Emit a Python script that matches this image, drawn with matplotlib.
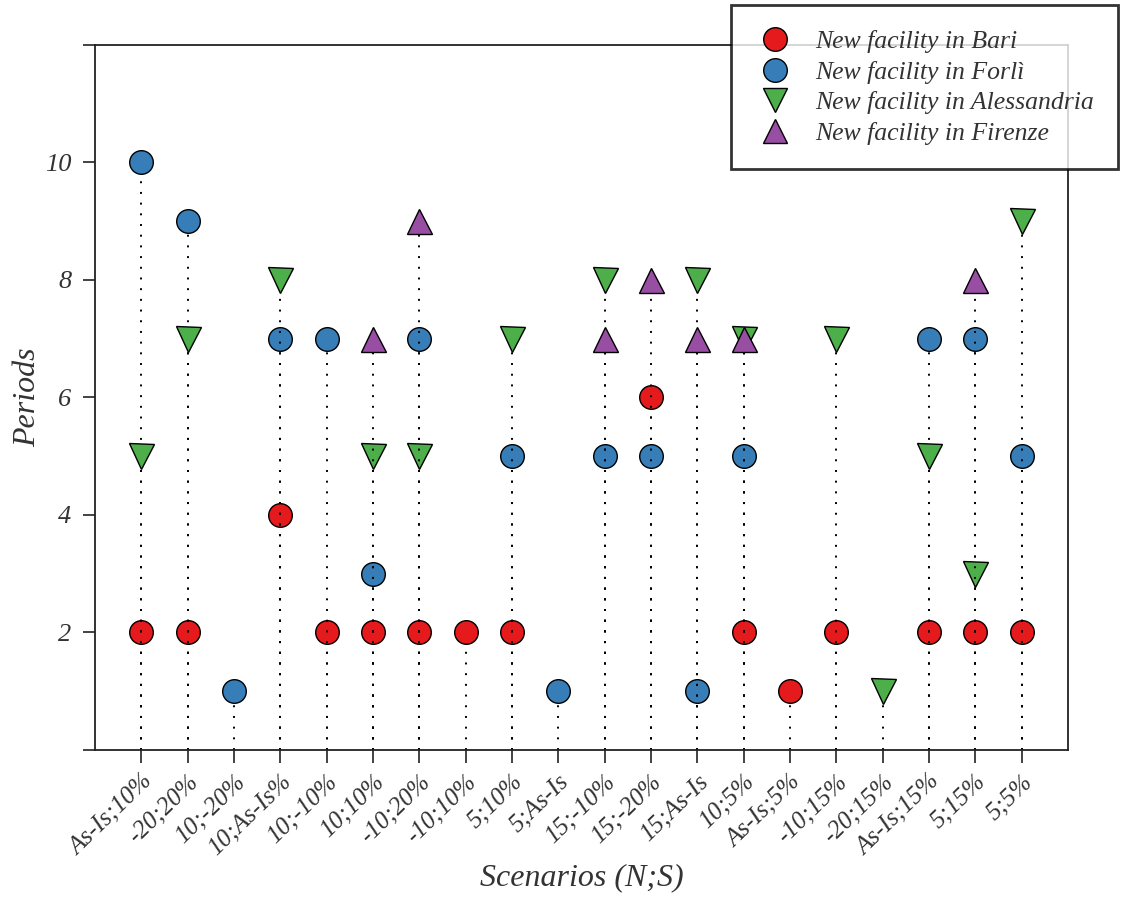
import numpy as np
import matplotlib
matplotlib.use("Agg")
import matplotlib.pyplot as plt
from matplotlib.lines import Line2D

scenarios = ["As-Is;10%", "-20;20%", "10;-20%", "10;As-Is%", "10;-10%", "10;10%",
             "-10;20%", "-10;10%", "5;10%", "5;As-Is", "15;-10%", "15;-20%",
             "15;As-Is", "10;5%", "As-Is;5%", "-10;15%", "-20;15%", "As-Is;15%",
             "5;15%", "5;5%"]
bari = [2, 2, None, 4, 2, 2, 2, 2, 2, None, None, 6, None, 2, 1, 2, None, 2, 2, 2]
forli = [10, 9, 1, 7, 7, 3, 7, None, 5, 1, 5, 5, 1, 5, None, None, None, 7, 7, 5]
alessandria = [5, 7, None, 8, None, 5, 5, None, 7, None, 8, None, 8, 7, None, 7, 1, 5, 3, 9]
firenze = [None, None, None, None, None, 7, 9, None, None, None, 7, 8, 7, 7, None, None, None, None, 8, None]

series_labels = ["New facility in Bari", "New facility in Forlì",
                 "New facility in Alessandria", "New facility in Firenze"]
series_values = [bari, forli, alessandria, firenze]
colors = ["#E41A1C", "#377EB8", "#4DAF4A", "#984EA3"]
markers = ["o", "o", "v", "^"]
msizes = [17, 17, 18, 18]

plt.rcParams['font.family'] = ['Liberation Serif', 'DejaVu Serif']

fig = plt.figure(figsize=(11.26, 9.0), dpi=100)
ax = fig.add_axes([0.0844, 0.1667, 0.9485 - 0.0844, 0.95 - 0.1667])

x_all = np.arange(len(scenarios))
for vals, col, mk, ms, lab in zip(series_values, colors, markers, msizes, series_labels):
    xs = np.array([i for i, v in enumerate(vals) if v is not None])
    ys = np.array([v for v in vals if v is not None], dtype=float)
    ax.vlines(xs, 0, ys, colors="black", linestyles=(0, (1, 4.5)), linewidth=1.4)
    ax.plot(xs, ys, linestyle="none", marker=mk, markersize=ms, markerfacecolor=col,
            markeredgecolor="black", markeredgewidth=1.0, label=lab)

ax.set_xlim(-1, len(scenarios))
ax.set_ylim(0, 12)
ax.set_xticks(x_all)
ax.set_xticklabels(scenarios, rotation=44, ha="right", rotation_mode="anchor",
                   fontsize=18, fontstyle="italic", color="#333333")
yt = [0, 2, 4, 6, 8, 10, 12]
ax.set_yticks(yt)
ax.set_yticklabels(["" if v in (0, 12) else str(v) for v in yt], fontsize=19,
                   fontstyle="italic", color="#333333")
ax.tick_params(axis="both", direction="out", length=9, width=1.2, color="#222222")
ax.tick_params(axis="x", pad=6)
ax.tick_params(axis="y", pad=8)
for s in ax.spines.values():
    s.set_linewidth(1.3)
    s.set_color("#222222")

ax.set_xlabel("Scenarios (N;S)", fontsize=23, fontstyle="italic", color="#333333", labelpad=2)
ax.set_ylabel("Periods", fontsize=23, fontstyle="italic", color="#333333", labelpad=2)

handles = [Line2D([], [], linestyle="none", marker=mk, markersize=ms, markerfacecolor=col,
                  markeredgecolor="black", markeredgewidth=1.0)
           for col, mk, ms in zip(colors, markers, [17, 17, 17, 17])]
leg = fig.legend(handles, series_labels, loc="upper right", bbox_to_anchor=(0.993, 0.994),
                 frameon=True, fancybox=False,
                 prop={"style": "italic", "size": 18.5},
                 handletextpad=0.8, labelspacing=0.3, borderpad=0.95, handlelength=1.5,
                 borderaxespad=0)
leg.get_frame().set_edgecolor("black")
leg.get_frame().set_linewidth(2.0)
for t in leg.get_texts():
    t.set_color("#333333")

fig.savefig("out.png", dpi=100)
